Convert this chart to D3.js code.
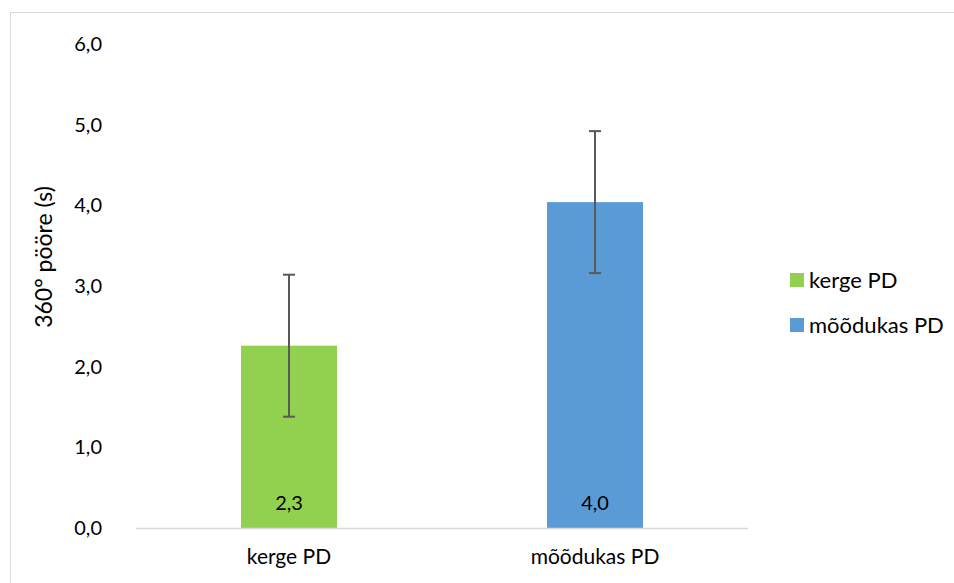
<!DOCTYPE html>
<html><head><meta charset="utf-8">
<script src="https://cdn.jsdelivr.net/npm/d3@7"></script>
<style>body{margin:0;background:#fff}svg{display:block;font-family:Lato,"Open Sans",sans-serif}</style>
</head><body>
<svg id="c" width="954" height="583"></svg>
<script>
const categories = ["kerge PD", "mõõdukas PD"];
const seriesNames = ["kerge PD", "mõõdukas PD"];
const means = [2.26, 4.04];
const errors = [0.88, 0.88];
const dataLabels = ["2,3", "4,0"];
const yTicks = [0, 1, 2, 3, 4, 5, 6];
const colors = ["#92D050", "#5B9BD5"];

const svg = d3.select("#c");
// chart border
svg.append("rect").attr("x", 10.5).attr("y", 12.5).attr("width", 1000).attr("height", 1000)
  .attr("fill", "none").attr("stroke", "#D9D9D9").attr("stroke-width", 1);

const x0 = 136, x1 = 748, yTop = 44, yBot = 528;
const y = d3.scaleLinear().domain([0, 6]).range([yBot, yTop]);
const pi = 1 - 96 / 306;
const x = d3.scaleBand().domain(categories).range([x0, x1]).paddingInner(pi).paddingOuter(pi / 2);

// y tick labels
const fmt = v => d3.format(".1f")(v).replace(".", ",");
svg.append("g").selectAll("text").data(yTicks).join("text")
  .attr("x", 102).attr("y", d => y(d)).attr("dy", "0.35em")
  .attr("text-anchor", "end").attr("font-size", 20).attr("fill", "#000")
  .text(fmt);

// bars
svg.append("g").selectAll("rect").data(means).join("rect")
  .attr("x", (d, i) => x(categories[i])).attr("width", x.bandwidth())
  .attr("y", d => y(d)).attr("height", d => y(0) - y(d))
  .attr("fill", (d, i) => colors[i]);

// axis line
svg.append("line").attr("x1", x0).attr("x2", x1).attr("y1", yBot + 0.5).attr("y2", yBot + 0.5)
  .attr("stroke", "#D9D9D9").attr("stroke-width", 1.5);

// error bars
const eb = svg.append("g").attr("stroke", "#595959").attr("stroke-width", 2);
means.forEach((m, i) => {
  const cx = x(categories[i]) + x.bandwidth() / 2;
  eb.append("line").attr("x1", cx).attr("x2", cx).attr("y1", y(m + errors[i])).attr("y2", y(m - errors[i]));
  eb.append("line").attr("x1", cx - 6).attr("x2", cx + 6).attr("y1", y(m + errors[i])).attr("y2", y(m + errors[i]));
  eb.append("line").attr("x1", cx - 6).attr("x2", cx + 6).attr("y1", y(m - errors[i])).attr("y2", y(m - errors[i]));
});

// data labels
svg.append("g").selectAll("text").data(dataLabels).join("text")
  .attr("x", (d, i) => x(categories[i]) + x.bandwidth() / 2).attr("y", 510)
  .attr("text-anchor", "middle").attr("font-size", 20).attr("fill", "#000").text(d => d);

// x category labels
svg.append("g").selectAll("text").data(categories).join("text")
  .attr("x", d => x(d) + x.bandwidth() / 2).attr("y", 564)
  .attr("text-anchor", "middle").attr("font-size", 21).attr("fill", "#000").text(d => d);

// y axis title
svg.append("text").attr("transform", "translate(52,257) rotate(-90)")
  .attr("text-anchor", "middle").attr("font-size", 23).attr("fill", "#000").text("360° pööre (s)");

// legend
const lg = svg.append("g");
seriesNames.forEach((s, i) => {
  const cy = 280 + i * 45;
  lg.append("rect").attr("x", 790).attr("y", cy - 7).attr("width", 14).attr("height", 14).attr("fill", colors[i]);
  lg.append("text").attr("x", 809).attr("y", cy).attr("dy", "0.35em").attr("font-size", 22).attr("fill", "#000").text(s);
});
</script>
</body></html>
